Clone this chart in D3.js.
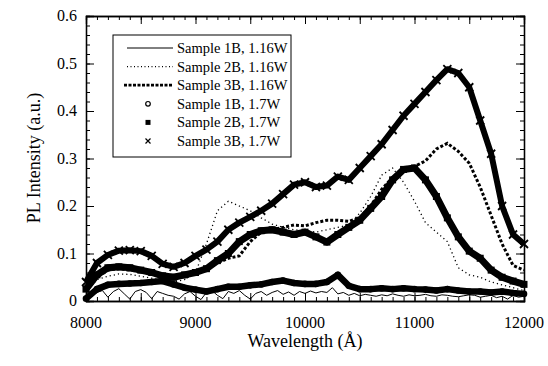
<!DOCTYPE html>
<html>
<head>
<meta charset="utf-8">
<script src="https://cdn.jsdelivr.net/npm/d3@7"></script>
<style>
  body { margin: 0; background: #fff; }
  #chart { margin: 0; }
  svg { font-family: "Liberation Serif", "Times New Roman", serif; }
</style>
</head>
<body>
<figure id="chart"></figure>
<script>
// wavelength grid (Angstrom) shared by the five smoothed curves
const wavelengths = [8000, 8100, 8200, 8300, 8400, 8500, 8600, 8700, 8800, 8900,
  9000, 9100, 9200, 9300, 9400, 9500, 9600, 9700, 9800, 9900,
  10000, 10100, 10200, 10300, 10400, 10500, 10600, 10700, 10800, 10900,
  11000, 11100, 11200, 11300, 11400, 11500, 11600, 11700, 11800, 11900, 12000];

// the thin noisy curve is read on a finer grid
const fineWavelengths = [8000, 8050, 8100, 8150, 8200, 8250, 8300, 8350, 8400, 8450,
  8500, 8550, 8600, 8650, 8700, 8750, 8800, 8850, 8900, 8950,
  9000, 9050, 9100, 9150, 9200, 9250, 9300, 9350, 9400, 9450,
  9500, 9550, 9600, 9650, 9700, 9750, 9800, 9850, 9900, 9950,
  10000, 10050, 10100, 10150, 10200, 10250, 10300, 10350, 10400, 10450,
  10500, 10550, 10600, 10650, 10700, 10750, 10800, 10850, 10900, 10950,
  11000, 11050, 11100, 11150, 11200, 11250, 11300, 11350, 11400, 11450,
  11500, 11550, 11600, 11650, 11700, 11750, 11800, 11850, 11900, 11950, 12000];

const sample1B_116 = [0.0, 0.01, 0.018, 0.022, 0.008, 0.02, 0.026, 0.015, 0.004, 0.02,
  0.024, 0.018, 0.005, 0.02, 0.016, 0.012, 0.01, 0.004, 0.015, 0.02,
  0.01, 0.003, 0.018, 0.022, 0.012, 0.005, 0.02, 0.016, 0.022, 0.012,
  0.004, 0.016, 0.02, 0.012, 0.018, 0.022, 0.014, 0.019, 0.012, 0.02,
  0.016, 0.021, 0.017, 0.02, 0.018, 0.028, 0.015, 0.018, 0.012, 0.016,
  0.011, 0.014, 0.012, 0.01, 0.013, 0.011, 0.015, 0.012, 0.01, 0.013,
  0.011, 0.012, 0.014, 0.011, 0.01, 0.013, 0.012, 0.01, 0.009, 0.011,
  0.013, 0.012, 0.008, 0.01, 0.012, 0.007, 0.01, 0.004, 0.012, 0.008, 0.01];

const sample2B_116 = [0.02, 0.045, 0.052, 0.057, 0.056, 0.052, 0.048, 0.043, 0.04, 0.045,
  0.06, 0.12, 0.19, 0.21, 0.2, 0.19, 0.175, 0.162, 0.155, 0.15,
  0.148, 0.145, 0.15, 0.155, 0.16, 0.185, 0.22, 0.265, 0.28, 0.25,
  0.21, 0.165, 0.145, 0.125, 0.07, 0.055, 0.05, 0.04, 0.034, 0.028, 0.022];

const sample3B_116 = [0.02, 0.05, 0.065, 0.068, 0.065, 0.062, 0.058, 0.052, 0.05, 0.055,
  0.06, 0.07, 0.08, 0.09, 0.095, 0.125, 0.145, 0.15, 0.155, 0.16,
  0.158, 0.165, 0.17, 0.17, 0.168, 0.175, 0.2, 0.235, 0.26, 0.275,
  0.283, 0.295, 0.32, 0.332, 0.315, 0.29, 0.24, 0.18, 0.12, 0.075, 0.065];

const sample1B_17 = [0.005, 0.025, 0.034, 0.036, 0.037, 0.038, 0.04, 0.042, 0.035, 0.028,
  0.024, 0.02, 0.025, 0.03, 0.03, 0.033, 0.035, 0.04, 0.043, 0.038,
  0.036, 0.036, 0.04, 0.055, 0.032, 0.025, 0.025, 0.027, 0.025, 0.027,
  0.025, 0.024, 0.022, 0.025, 0.022, 0.02, 0.02, 0.018, 0.02, 0.017, 0.015];

const sample2B_17 = [0.025, 0.055, 0.07, 0.072, 0.07, 0.065, 0.06, 0.053, 0.05, 0.055,
  0.06, 0.068, 0.085, 0.1, 0.125, 0.14, 0.148, 0.15, 0.145, 0.14,
  0.145, 0.135, 0.124, 0.14, 0.155, 0.17, 0.195, 0.22, 0.255, 0.277,
  0.28, 0.255, 0.22, 0.175, 0.135, 0.105, 0.09, 0.065, 0.05, 0.042, 0.035];

const sample3B_17 = [0.04, 0.08, 0.097, 0.106, 0.107, 0.105, 0.095, 0.078, 0.072, 0.08,
  0.095, 0.108, 0.125, 0.15, 0.165, 0.177, 0.19, 0.205, 0.225, 0.245,
  0.25, 0.24, 0.243, 0.262, 0.255, 0.28, 0.305, 0.33, 0.36, 0.39,
  0.415, 0.44, 0.465, 0.488, 0.48, 0.45, 0.38, 0.31, 0.2, 0.14, 0.12];

const xTickLabels = [8000, 9000, 10000, 11000, 12000];
const yTickLabels = [0, 0.1, 0.2, 0.3, 0.4, 0.5, 0.6];
const legendLabels = ['Sample 1B, 1.16W', 'Sample 2B, 1.16W', 'Sample 3B, 1.16W',
  'Sample 1B, 1.7W', 'Sample 2B, 1.7W', 'Sample 3B, 1.7W'];

const width = 548, height = 366;
const plot = { left: 86, right: 524, top: 16, bottom: 301 };

const svg = d3.select('figure#chart')
  .append('svg')
  .attr('width', width)
  .attr('height', height);

const x = d3.scaleLinear().domain([8000, 12000]).range([plot.left, plot.right]);
const y = d3.scaleLinear().domain([0, 0.6]).range([plot.bottom, plot.top]);

// ticks point inward on all four sides
const minorX = d3.range(8000, 12001, 100);
const majorX = d3.range(8000, 12001, 500);
const minorY = d3.range(0, 0.601, 0.02);
const noLabel = () => '';

svg.append('g').attr('transform', `translate(0,${plot.bottom})`)
  .call(d3.axisBottom(x).tickValues(minorX).tickSize(-4).tickFormat(noLabel));
svg.append('g').attr('transform', `translate(0,${plot.bottom})`)
  .call(d3.axisBottom(x).tickValues(majorX).tickSize(-8).tickFormat(noLabel));
svg.append('g').attr('transform', `translate(0,${plot.top})`)
  .call(d3.axisTop(x).tickValues(minorX).tickSize(-4).tickFormat(noLabel));
svg.append('g').attr('transform', `translate(0,${plot.top})`)
  .call(d3.axisTop(x).tickValues(majorX).tickSize(-8).tickFormat(noLabel));
svg.append('g').attr('transform', `translate(${plot.left},0)`)
  .call(d3.axisLeft(y).tickValues(minorY).tickSize(-4).tickFormat(noLabel));
svg.append('g').attr('transform', `translate(${plot.left},0)`)
  .call(d3.axisLeft(y).tickValues(yTickLabels).tickSize(-8).tickFormat(noLabel));
svg.append('g').attr('transform', `translate(${plot.right},0)`)
  .call(d3.axisRight(y).tickValues(minorY).tickSize(-4).tickFormat(noLabel));
svg.append('g').attr('transform', `translate(${plot.right},0)`)
  .call(d3.axisRight(y).tickValues(yTickLabels).tickSize(-8).tickFormat(noLabel));

svg.selectAll('.domain').attr('stroke', '#000').attr('stroke-width', 1.3);
svg.selectAll('.tick line').attr('stroke', '#000').attr('stroke-width', 1);

// tick labels
svg.selectAll('.xlab')
  .data(xTickLabels)
  .enter()
  .append('text')
  .attr('x', d => x(d))
  .attr('y', 328)
  .attr('text-anchor', 'middle')
  .attr('font-size', 16)
  .text(d => d);

svg.selectAll('.ylab')
  .data(yTickLabels)
  .enter()
  .append('text')
  .attr('x', 77)
  .attr('y', d => y(d) + 5)
  .attr('text-anchor', 'end')
  .attr('font-size', 16)
  .text(d => d === 0 ? '0' : d.toFixed(1));

svg.append('text')
  .attr('x', 305)
  .attr('y', 347)
  .attr('text-anchor', 'middle')
  .attr('font-size', 18)
  .text('Wavelength (Å)');

svg.append('text')
  .attr('transform', 'translate(40,158) rotate(-90)')
  .attr('text-anchor', 'middle')
  .attr('font-size', 18)
  .text('PL Intensity (a.u.)');

// curves
const line = d3.line().x(d => x(d[0])).y(d => y(d[1]));
const pair = (xs, ys) => xs.map((w, i) => [w, ys[i]]);

const plotArea = svg.append('g');

function drawBand(values, width) {
  plotArea.append('path')
    .datum(pair(wavelengths, values))
    .attr('d', line)
    .attr('fill', 'none')
    .attr('stroke', '#000')
    .attr('stroke-width', width)
    .attr('stroke-linejoin', 'round');
}

// 1.16W runs
plotArea.append('path')
  .datum(pair(fineWavelengths, sample1B_116))
  .attr('d', line)
  .attr('fill', 'none')
  .attr('stroke', '#000')
  .attr('stroke-width', 1);

plotArea.append('path')
  .datum(pair(wavelengths, sample2B_116))
  .attr('d', line)
  .attr('fill', 'none')
  .attr('stroke', '#000')
  .attr('stroke-width', 1.3)
  .attr('stroke-dasharray', '1.2,3');

plotArea.append('path')
  .datum(pair(wavelengths, sample3B_116))
  .attr('d', line)
  .attr('fill', 'none')
  .attr('stroke', '#000')
  .attr('stroke-width', 3)
  .attr('stroke-dasharray', '3,2');

// 1.7W runs: dense markers give thick bands
drawBand(sample1B_17, 6.5);
plotArea.selectAll('.c1')
  .data(pair(wavelengths, sample1B_17))
  .enter()
  .append('circle')
  .attr('cx', d => x(d[0]))
  .attr('cy', d => y(d[1]))
  .attr('r', 3.3)
  .attr('fill', '#000');

drawBand(sample2B_17, 7);
plotArea.selectAll('.s2')
  .data(pair(wavelengths, sample2B_17))
  .enter()
  .append('rect')
  .attr('x', d => x(d[0]) - 3.5)
  .attr('y', d => y(d[1]) - 3.5)
  .attr('width', 7)
  .attr('height', 7)
  .attr('fill', '#000');

drawBand(sample3B_17, 6);
plotArea.selectAll('.x3')
  .data(pair(wavelengths, sample3B_17))
  .enter()
  .append('path')
  .attr('transform', d => `translate(${x(d[0])},${y(d[1])})`)
  .attr('d', 'M-4,-4L4,4M-4,4L4,-4')
  .attr('stroke', '#000')
  .attr('stroke-width', 1.8);

// legend
const legend = svg.append('g');
legend.append('rect')
  .attr('x', 113).attr('y', 35)
  .attr('width', 178).attr('height', 122)
  .attr('fill', '#fff')
  .attr('stroke', '#000')
  .attr('stroke-width', 1);

const rowY = i => 48 + i * 18.6;

legendLabels.forEach((label, i) => {
  legend.append('text')
    .attr('x', 177)
    .attr('y', rowY(i) + 5)
    .attr('font-size', 14.5)
    .text(label);
});

legend.append('line').attr('x1', 127).attr('x2', 173).attr('y1', rowY(0)).attr('y2', rowY(0))
  .attr('stroke', '#000').attr('stroke-width', 1);
legend.append('line').attr('x1', 127).attr('x2', 173).attr('y1', rowY(1)).attr('y2', rowY(1))
  .attr('stroke', '#000').attr('stroke-width', 1.2).attr('stroke-dasharray', '1,2.5');
legend.append('line').attr('x1', 124).attr('x2', 173).attr('y1', rowY(2)).attr('y2', rowY(2))
  .attr('stroke', '#000').attr('stroke-width', 2.8).attr('stroke-dasharray', '3,1.5');
legend.append('circle').attr('cx', 148).attr('cy', rowY(3)).attr('r', 2.3)
  .attr('fill', '#fff').attr('stroke', '#000').attr('stroke-width', 1.2);
legend.append('rect').attr('x', 145.5).attr('y', rowY(4) - 2.5).attr('width', 5).attr('height', 5)
  .attr('fill', '#000');
legend.append('path').attr('transform', `translate(148,${rowY(5)})`)
  .attr('d', 'M-2.5,-2.5L2.5,2.5M-2.5,2.5L2.5,-2.5')
  .attr('stroke', '#000').attr('stroke-width', 1.2);
</script>
</body>
</html>
